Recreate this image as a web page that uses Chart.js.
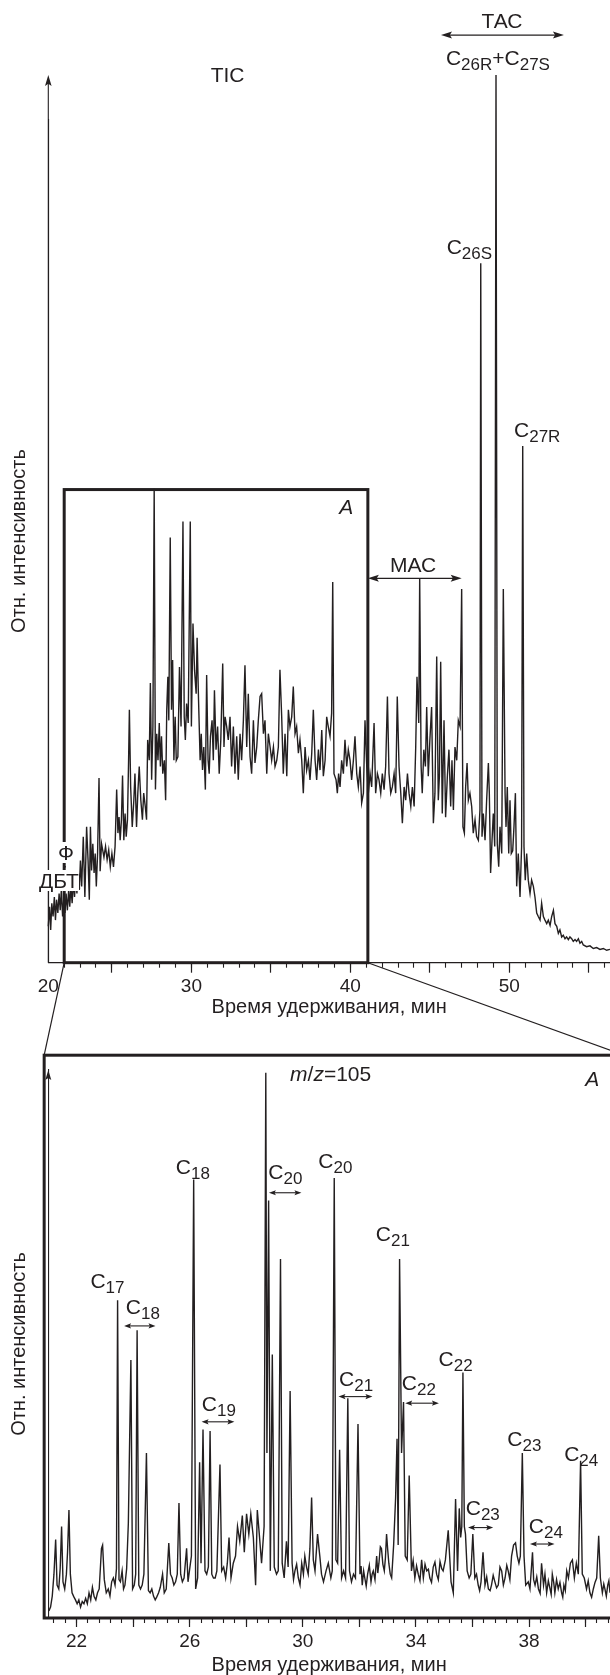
<!DOCTYPE html>
<html><head><meta charset="utf-8">
<script src="https://cdn.jsdelivr.net/npm/chart.js@4.4.1/dist/chart.umd.min.js"></script>
<style>
html,body{margin:0;padding:0;background:#fff;}
body{width:610px;height:1675px;position:relative;overflow:hidden;font-family:'Liberation Sans',Arial,Helvetica,sans-serif;color:#231f20;}
canvas{position:absolute;left:0;}
#cA{top:0;}
#cB{top:955px;}
.lbl{position:absolute;font-size:21px;line-height:21px;white-space:nowrap;}
.lbl sub{font-size:17px;vertical-align:baseline;position:relative;top:5px;}
.lbl.bg{background:#fff;}
</style></head><body>
<canvas id="cA" width="610" height="1060"></canvas>
<canvas id="cB" width="610" height="720"></canvas>
<script>
// ---------------- DATA ----------------
// Total ion current chromatogram: [retention time, min ; relative intensity, %]
const ticTrace = [
[21.00,4.1],[21.08,6.3],[21.15,3.7],[21.22,6.7],[21.30,5.2],[21.38,7.4],[21.45,4.8],[21.52,7.1],[21.60,5.6],[21.68,7.8],
[21.75,5.9],[21.82,8.2],[21.90,5.2],[21.98,7.4],[22.05,5.6],[22.12,7.8],[22.20,5.9],[22.28,8.2],[22.35,6.3],[22.42,8.6],
[22.50,6.7],[22.58,9.3],[22.65,7.4],[22.72,9.7],[22.80,7.8],[22.88,10.4],[22.95,8.2],[23.02,11.5],[23.10,8.6],[23.20,14.2],
[23.30,7.4],[23.41,15.3],[23.50,11.6],[23.58,7.1],[23.65,15.3],[23.72,10.4],[23.80,13.4],[23.88,10.1],[23.95,12.3],[24.02,8.6],
[24.10,12.3],[24.19,20.8],[24.26,10.3],[24.35,13.4],[24.50,11.9],[24.60,13.1],[24.70,11.6],[24.80,12.7],[24.90,10.8],[25.00,12.3],
[25.10,10.8],[25.20,13.1],[25.30,19.5],[25.38,14.6],[25.45,16.4],[25.52,13.8],[25.60,16.1],[25.67,21.1],[25.75,13.8],[25.83,16.8],
[25.90,14.2],[25.98,16.1],[26.05,22.8],[26.10,28.5],[26.18,19.8],[26.28,15.3],[26.38,18.3],[26.45,21.3],[26.55,15.3],[26.63,19.1],
[26.72,22.1],[26.82,18.3],[26.92,16.1],[27.00,19.1],[27.10,17.6],[27.18,16.1],[27.25,25.1],[27.35,22.8],[27.42,31.5],[27.50,20.6],
[27.58,26.6],[27.66,53.4],[27.74,19.5],[27.82,25.8],[27.90,22.8],[27.98,27.0],[28.05,22.1],[28.12,25.5],[28.20,21.3],[28.30,22.8],
[28.38,18.3],[28.45,28.5],[28.52,32.2],[28.58,27.3],[28.67,47.9],[28.75,28.5],[28.82,34.1],[28.90,22.8],[28.98,27.7],[29.05,22.8],
[29.15,23.2],[29.25,33.3],[29.35,26.6],[29.47,49.7],[29.55,27.7],[29.62,25.1],[29.70,29.2],[29.80,27.0],[29.93,49.7],[30.00,26.6],
[30.10,38.2],[30.20,32.9],[30.30,30.3],[30.36,36.6],[30.45,29.6],[30.55,22.8],[30.62,25.8],[30.70,21.7],[30.78,24.3],[30.88,19.5],
[30.96,32.4],[31.05,22.8],[31.12,21.3],[31.20,25.5],[31.30,27.3],[31.38,22.8],[31.45,30.7],[31.55,24.0],[31.65,26.6],[31.75,21.3],
[31.85,25.1],[31.97,33.7],[32.05,24.3],[32.12,27.7],[32.22,26.6],[32.32,25.1],[32.43,27.7],[32.53,22.1],[32.64,26.6],[32.74,21.3],
[32.85,25.5],[32.95,20.6],[33.06,25.8],[33.16,22.8],[33.27,27.3],[33.37,33.5],[33.48,24.3],[33.58,30.3],[33.69,23.2],[33.79,21.3],
[33.90,27.3],[34.00,22.5],[34.11,24.3],[34.21,27.3],[34.32,30.0],[34.42,30.3],[34.53,25.8],[34.63,27.3],[34.74,21.3],[34.84,25.8],
[34.95,24.3],[35.05,22.8],[35.16,24.3],[35.26,22.1],[35.37,22.8],[35.47,24.3],[35.57,33.0],[35.68,27.7],[35.78,21.3],[35.89,25.8],
[36.00,21.0],[36.10,28.5],[36.20,26.6],[36.31,27.7],[36.41,31.1],[36.52,25.8],[36.62,26.6],[36.73,23.6],[36.83,25.1],[36.94,22.8],
[37.04,19.1],[37.15,24.3],[37.25,21.7],[37.36,22.8],[37.46,20.6],[37.57,23.6],[37.67,28.5],[37.78,22.8],[37.88,20.6],[37.99,24.0],
[38.09,21.7],[38.20,26.2],[38.30,21.0],[38.41,22.8],[38.51,27.7],[38.61,26.6],[38.72,25.5],[38.82,28.1],[38.89,42.9],[38.97,21.3],
[39.10,20.6],[39.18,19.1],[39.26,21.3],[39.35,19.8],[39.45,22.8],[39.56,21.3],[39.66,25.1],[39.77,22.1],[39.87,24.0],[39.98,22.8],
[40.08,20.6],[40.19,22.8],[40.29,25.5],[40.40,21.3],[40.50,19.8],[40.61,22.1],[40.71,18.0],[40.82,19.1],[40.92,27.3],[41.03,22.1],
[41.13,19.1],[41.24,21.3],[41.34,19.8],[41.49,27.0],[41.59,19.1],[41.70,21.3],[41.80,20.6],[41.91,19.1],[42.01,21.3],[42.12,19.5],
[42.22,22.1],[42.33,30.0],[42.43,21.3],[42.54,19.1],[42.64,19.8],[42.75,21.3],[42.85,19.1],[42.95,30.0],[43.06,22.1],[43.17,19.1],
[43.27,15.7],[43.38,19.8],[43.48,18.3],[43.59,21.3],[43.69,19.1],[43.80,17.6],[43.90,19.8],[44.01,17.6],[44.11,24.3],[44.19,32.2],
[44.30,27.0],[44.36,43.3],[44.45,22.1],[44.52,19.1],[44.62,24.0],[44.72,22.1],[44.80,28.8],[44.90,21.0],[45.00,25.1],[45.11,28.8],
[45.22,15.7],[45.32,19.1],[45.43,34.5],[45.53,18.3],[45.60,21.0],[45.68,33.9],[45.78,16.8],[45.89,27.3],[45.99,16.4],[46.10,21.0],
[46.20,24.0],[46.31,17.6],[46.39,22.8],[46.48,17.2],[46.58,24.3],[46.69,22.8],[46.79,27.3],[46.90,26.6],[47.00,42.1],[47.08,15.3],
[47.17,14.6],[47.25,19.8],[47.34,22.5],[47.42,18.3],[47.52,19.1],[47.63,17.6],[47.73,14.6],[47.84,16.1],[47.94,14.2],[48.05,13.8],
[48.15,17.2],[48.20,78.8],[48.28,14.2],[48.36,16.8],[48.47,13.8],[48.57,18.3],[48.68,22.5],[48.74,19.1],[48.82,10.1],[48.91,13.8],
[48.99,16.8],[49.08,13.1],[49.16,100],[49.24,13.4],[49.33,10.8],[49.41,15.3],[49.52,12.3],[49.62,42.1],[49.73,19.1],[49.79,15.3],
[49.87,19.8],[49.96,12.3],[50.04,18.3],[50.12,12.3],[50.21,12.6],[50.29,15.3],[50.38,19.1],[50.46,8.6],[50.56,12.3],[50.67,7.4],
[50.77,13.1],[50.84,58.2],[50.92,13.1],[51.00,9.3],[51.09,12.3],[51.19,9.3],[51.30,7.8],[51.40,9.3],[51.51,8.6],[51.61,7.4],
[51.72,5.6],[51.82,5.2],[51.93,4.8],[52.03,6.7],[52.14,5.2],[52.24,4.8],[52.35,4.4],[52.45,4.8],[52.56,4.2],[52.66,5.2],
[52.77,5.9],[52.87,4.4],[52.98,4.1],[53.08,3.3],[53.18,3.7],[53.29,2.9],[53.39,3.1],[53.50,2.7],[53.60,2.9],[53.71,2.6],
[53.81,2.9],[53.92,2.7],[54.02,2.4],[54.13,2.6],[54.23,2.4],[54.34,2.7],[54.44,2.2],[54.55,2.4],[54.65,2.0],[54.86,1.8],
[55.07,1.9],[55.28,1.6],[55.49,1.7],[55.70,1.5],[55.91,1.6],[56.12,1.4],[56.33,1.5]
];

// Mass chromatogram m/z = 105 (fragment A): [retention time, min ; relative intensity, %]
const mzTrace = [
[21.02,1.3],[21.08,2.0],[21.14,4.0],[21.20,8.0],[21.26,14.3],[21.31,6.0],[21.37,5.3],[21.42,9.0],[21.47,16.7],[21.52,6.6],
[21.58,5.3],[21.64,8.0],[21.68,12.0],[21.73,19.7],[21.78,8.0],[21.84,4.6],[21.90,3.9],[21.96,3.3],[22.02,2.6],[22.08,3.3],
[22.14,2.0],[22.20,3.0],[22.26,2.6],[22.32,3.6],[22.38,2.6],[22.44,4.6],[22.50,3.3],[22.56,5.6],[22.62,3.9],[22.68,3.3],
[22.74,4.6],[22.80,5.3],[22.88,12.7],[22.92,13.3],[22.98,7.0],[23.05,4.6],[23.12,5.3],[23.18,4.0],[23.24,6.6],[23.30,7.3],
[23.36,6.0],[23.41,9.0],[23.45,58.0],[23.50,7.0],[23.55,6.6],[23.61,8.6],[23.66,5.3],[23.71,6.0],[23.77,9.0],[23.83,17.3],
[23.92,47.1],[23.98,5.3],[24.04,6.0],[24.09,8.0],[24.14,52.5],[24.20,6.0],[24.26,5.3],[24.32,6.0],[24.38,8.0],[24.47,30.1],
[24.54,5.0],[24.60,4.6],[24.66,5.3],[24.72,4.0],[24.78,3.3],[24.84,3.9],[24.90,4.6],[24.96,5.6],[25.04,8.0],[25.10,4.6],
[25.17,5.3],[25.26,13.7],[25.32,8.0],[25.38,7.3],[25.44,6.0],[25.50,6.6],[25.56,8.0],[25.62,21.0],[25.68,8.0],[25.74,6.6],
[25.80,7.3],[25.89,12.7],[25.94,6.6],[25.99,8.6],[26.06,11.3],[26.14,80.0],[26.21,5.3],[26.28,7.3],[26.35,28.4],[26.40,10.0],
[26.47,34.4],[26.54,8.6],[26.60,8.0],[26.66,9.3],[26.72,34.1],[26.78,8.0],[26.84,7.3],[26.90,7.3],[26.96,8.6],[27.07,28.0],
[27.13,8.6],[27.20,9.3],[27.27,7.3],[27.33,10.0],[27.39,14.7],[27.46,7.3],[27.54,10.0],[27.62,11.3],[27.69,16.7],[27.77,14.0],
[27.86,18.7],[27.93,12.0],[28.01,19.0],[28.09,15.3],[28.16,19.0],[28.25,14.7],[28.33,6.0],[28.39,19.7],[28.46,15.3],[28.54,10.0],
[28.63,16.7],[28.69,99.5],[28.73,30.1],[28.79,76.2],[28.85,8.6],[28.92,48.1],[28.99,9.3],[29.07,8.0],[29.13,8.6],[29.21,65.5],
[29.27,10.0],[29.34,7.3],[29.42,14.0],[29.48,9.3],[29.55,41.4],[29.62,10.0],[29.67,7.0],[29.72,8.6],[29.78,9.8],[29.84,7.3],
[29.90,6.0],[29.96,10.0],[30.02,8.0],[30.07,11.3],[30.13,9.3],[30.19,8.0],[30.25,12.7],[30.31,22.0],[30.37,10.6],[30.43,8.6],
[30.52,15.3],[30.60,11.3],[30.66,8.0],[30.73,6.6],[30.82,8.6],[30.90,10.0],[30.99,7.3],[31.04,8.6],[31.11,80.3],[31.17,10.6],
[31.23,10.0],[31.30,30.7],[31.37,7.3],[31.44,8.6],[31.51,7.3],[31.59,40.1],[31.65,8.6],[31.72,6.6],[31.79,8.0],[31.86,7.3],
[31.95,35.4],[32.02,8.0],[32.06,9.5],[32.10,6.0],[32.15,8.6],[32.19,7.3],[32.24,5.8],[32.29,8.0],[32.35,9.6],[32.41,6.6],
[32.45,8.0],[32.49,8.6],[32.55,7.0],[32.61,11.3],[32.65,8.2],[32.69,10.0],[32.74,13.0],[32.78,12.7],[32.83,9.8],[32.88,8.6],
[32.92,11.0],[32.96,15.3],[33.00,12.5],[33.04,10.0],[33.09,8.0],[33.14,7.3],[33.21,13.3],[33.28,22.0],[33.33,32.7],[33.37,13.3],
[33.42,65.5],[33.49,30.1],[33.56,39.4],[33.62,11.3],[33.69,10.6],[33.76,26.0],[33.84,8.6],[33.90,10.5],[33.96,7.3],[34.02,9.5],
[34.08,8.0],[34.14,6.8],[34.20,10.6],[34.26,7.3],[34.32,9.8],[34.38,8.6],[34.44,8.9],[34.49,7.3],[34.55,6.5],[34.61,9.3],
[34.67,10.2],[34.73,8.0],[34.79,7.0],[34.85,10.3],[34.91,9.0],[34.96,8.6],[35.04,10.6],[35.14,16.0],[35.24,6.6],[35.32,4.6],
[35.40,21.7],[35.47,8.6],[35.53,20.0],[35.58,14.7],[35.62,16.7],[35.66,44.8],[35.71,16.7],[35.75,15.3],[35.81,8.6],[35.88,7.3],
[35.94,8.0],[36.01,15.3],[36.08,7.3],[36.14,8.0],[36.20,6.0],[36.25,5.0],[36.30,6.6],[36.37,12.0],[36.44,6.0],[36.50,7.5],
[36.56,5.3],[36.62,5.0],[36.67,6.0],[36.73,7.8],[36.79,6.6],[36.85,5.5],[36.91,6.0],[36.97,9.3],[37.03,8.6],[37.09,6.0],
[37.15,7.3],[37.21,9.6],[37.26,8.6],[37.32,7.0],[37.38,11.3],[37.45,13.3],[37.52,13.7],[37.58,11.3],[37.64,10.0],[37.69,11.3],
[37.76,30.1],[37.82,11.3],[37.88,6.0],[37.97,6.6],[38.03,5.3],[38.12,12.0],[38.16,7.0],[38.21,6.0],[38.27,7.5],[38.33,5.3],
[38.39,4.5],[38.44,10.0],[38.51,6.0],[38.56,8.0],[38.62,4.6],[38.68,6.8],[38.74,5.3],[38.78,4.3],[38.82,8.0],[38.87,6.5],
[38.91,4.6],[38.97,7.0],[39.03,5.3],[39.09,6.5],[39.15,4.6],[39.19,3.8],[39.23,6.0],[39.28,5.0],[39.33,8.6],[39.39,7.3],
[39.46,10.0],[39.53,10.6],[39.60,7.3],[39.67,10.0],[39.74,8.0],[39.82,28.7],[39.88,8.0],[39.95,7.3],[40.03,5.3],[40.09,6.8],
[40.15,4.6],[40.21,3.8],[40.27,5.3],[40.33,6.5],[40.39,7.3],[40.46,15.0],[40.52,7.3],[40.59,4.6],[40.64,6.2],[40.68,5.3],
[40.73,4.0],[40.78,6.0],[40.82,6.8],[40.86,4.6]
];

// Axis ticks
const ticMajorTicks = [21,25,30,35,40,45,50,55];
const ticMinorTicks = [22,23,24,25,26,27,28,29,30,31,32,33,34,35,36,37,38,39,40,41,42,43,44,45,46,47,48,49,50,51,52,53,54,55,56];
const ticTickLabels = {21:'20',30:'30',40:'40',50:'50'};
const mzMajorTicks = [22,24,26,28,30,32,34,36,38,40];
const mzMinorTicks = [21.2,21.6,22.0,22.4,22.8,23.2,23.6,24.0,24.4,24.8,25.2,25.6,26.0,26.4,26.8,27.2,27.6,28.0,28.4,28.8,
  29.2,29.6,30.0,30.4,30.8,31.2,31.6,32.0,32.4,32.8,33.2,33.6,34.0,34.4,34.8,35.2,35.6,36.0,36.4,36.8,37.2,37.6,38.0,38.4,38.8,
  39.2,39.6,40.0,40.4,40.8];
const mzTickLabels = {22:'22',26:'26',30:'30',34:'34',38:'38'};

// Annotations (label anchor: time = centre, intensity = baseline)
const ticLabels = [
  {html:'TIC', t:32.28, v:99.2},
  {html:'ТАС', t:49.54, v:105.3},
  {html:'C<sub>26R</sub>+C<sub>27S</sub>', t:49.28, v:101.1},
  {html:'C<sub>26S</sub>', t:47.47, v:79.9},
  {html:'C<sub>27R</sub>', t:51.74, v:59.3},
  {html:'МАС', t:43.94, v:44.0},
  {html:'<i>A</i>', t:39.74, v:50.6},
  {html:'Ф', t:22.11, v:11.6, bg:true},
  {html:'ДБТ', t:21.67, v:8.4, bg:true}
];
const ticSpans = [ {from:45.7, to:53.43, v:104.5}, {from:41.1, to:47.0, v:43.3} ];
const ticBoxA = {from:22.0, to:41.1, top:53.3};
const ticLeaders = [ {t:22.05, v1:10.9, v2:9.8}, {t:22.95, v1:9.8, v2:8.0} ];

const mzLabels = [
  {html:'<i>m</i>/<i>z</i>=105', t:30.98, v:98.0},
  {html:'<i>A</i>', t:40.23, v:97.1},
  {html:'C<sub>17</sub>', t:23.09, v:60.2},
  {html:'C<sub>18</sub>', t:24.34, v:55.6},
  {html:'C<sub>18</sub>', t:26.11, v:81.0},
  {html:'C<sub>19</sub>', t:27.03, v:37.8},
  {html:'C<sub>20</sub>', t:29.38, v:80.1},
  {html:'C<sub>20</sub>', t:31.15, v:82.2},
  {html:'C<sub>21</sub>', t:33.18, v:68.8},
  {html:'C<sub>21</sub>', t:31.88, v:42.3},
  {html:'C<sub>22</sub>', t:34.10, v:41.7},
  {html:'C<sub>22</sub>', t:35.40, v:46.0},
  {html:'C<sub>23</sub>', t:36.36, v:18.9},
  {html:'C<sub>23</sub>', t:37.83, v:31.4},
  {html:'C<sub>24</sub>', t:38.59, v:15.6},
  {html:'C<sub>24</sub>', t:39.84, v:28.6}
];
const mzSpans = [
  {from:23.68,to:24.79,v:53.3},{from:26.42,to:27.58,v:35.8},{from:28.80,to:29.95,v:77.6},
  {from:31.26,to:32.46,v:40.4},{from:33.62,to:34.81,v:39.2},{from:35.84,to:36.73,v:16.5},{from:38.03,to:38.90,v:13.5}
];
const mzFrame = {from:20.854, to:41.35, top:102.7};

// ---------------- RENDER ----------------
const INK = '#231f20';
const FONT = "'Liberation Sans', Arial, Helvetica, sans-serif";
Chart.defaults.font.family = FONT;
Chart.defaults.color = INK;

function seg(ctx,x1,y1,x2,y2,w){ctx.lineWidth=w;ctx.beginPath();ctx.moveTo(x1,y1);ctx.lineTo(x2,y2);ctx.stroke();}
function head(ctx,x,y,dir,len,hw){
  ctx.beginPath();
  if(dir==='up'){ctx.moveTo(x,y);ctx.lineTo(x-hw,y+len);ctx.lineTo(x,y+len*0.8);ctx.lineTo(x+hw,y+len);}
  else if(dir==='left'){ctx.moveTo(x,y);ctx.lineTo(x+len,y-hw);ctx.lineTo(x+len*0.8,y);ctx.lineTo(x+len,y+hw);}
  else {ctx.moveTo(x,y);ctx.lineTo(x-len,y-hw);ctx.lineTo(x-len*0.8,y);ctx.lineTo(x-len,y+hw);}
  ctx.closePath();ctx.fill();
}
function dbl(ctx,x1,x2,y,len,hw,w){seg(ctx,x1+len*0.7,y,x2-len*0.7,y,w);head(ctx,x1,y,'left',len,hw);head(ctx,x2,y,'right',len,hw);}

function xAxes(min,max,major,minor,labels,majorLen,pad,height,titlePad){
  return {
    x:{type:'linear',position:'bottom',min:min,max:max,weight:1,
      afterBuildTicks:s=>{s.ticks=major.map(v=>({value:v}));},
      afterFit:s=>{s.height=height;},
      grid:{display:true,drawOnChartArea:false,drawTicks:true,tickLength:majorLen,tickWidth:1.2,
        tickColor:c=>(c.tick&&c.tick.value===21)?'rgba(0,0,0,0)':INK},
      border:{display:true,color:INK,width:1.3},
      ticks:{autoSkip:false,maxRotation:0,minRotation:0,padding:pad,font:{size:19},color:INK,
        callback:v=>labels[v]||''},
      title:{display:true,text:'Время удерживания, мин',color:INK,font:{size:20,lineHeight:1},padding:{top:0,bottom:titlePad}}
    },
    xm:{type:'linear',position:'bottom',min:min,max:max,weight:0,
      afterBuildTicks:s=>{s.ticks=minor.map(v=>({value:v}));},
      afterFit:s=>{s.height=0;},
      grid:{display:true,drawOnChartArea:false,drawTicks:true,tickLength:5,tickWidth:1.1,tickColor:INK},
      border:{display:false},ticks:{display:false}
    }
  };
}
function yAxis(max){
  return {type:'linear',position:'left',min:0,max:max,
    afterFit:s=>{s.width=48.3;},
    grid:{display:false},ticks:{display:false},
    border:{display:true,color:INK,width:1.1},
    title:{display:true,text:'Отн. интенсивность',color:INK,font:{size:20,lineHeight:1},padding:{top:9.5,bottom:0}}
  };
}

const ticDecor = {id:'ticDecor', afterDraw(chart){
  const {ctx, scales:{x,y}, chartArea:a} = chart;
  ctx.save(); ctx.strokeStyle=INK; ctx.fillStyle=INK;
  const tip = y.getPixelForValue(100);
  seg(ctx,a.left,a.bottom,a.left,tip+6,1.1); head(ctx,a.left,tip,'up',11,3.3);
  ctx.lineWidth=3;
  const bl=x.getPixelForValue(ticBoxA.from), br=x.getPixelForValue(ticBoxA.to), bt=y.getPixelForValue(ticBoxA.top), bb=y.getPixelForValue(0);
  ctx.strokeRect(bl,bt,br-bl,bb-bt);
  ticSpans.forEach(s=>dbl(ctx,x.getPixelForValue(s.from),x.getPixelForValue(s.to),y.getPixelForValue(s.v),11,3.5,1.2));
  ctx.setLineDash([1.5,2.5]);
  ticLeaders.forEach(l=>seg(ctx,x.getPixelForValue(l.t),y.getPixelForValue(l.v1),x.getPixelForValue(l.t),y.getPixelForValue(l.v2),1.6));
  ctx.restore();
}};

const chartA = new Chart(document.getElementById('cA'), {
  type:'line',
  data:{datasets:[{data:ticTrace.map(p=>({x:p[0],y:p[1]})),xAxisID:'x',yAxisID:'y',borderColor:INK,borderWidth:1.4,pointRadius:0,tension:0,clip:false}]},
  options:{responsive:false,animation:false,events:[],
    layout:{padding:{top:119.4,left:0,right:0,bottom:0}},
    plugins:{legend:{display:false},tooltip:{enabled:false}},
    scales:Object.assign(xAxes(21,56.33,ticMajorTicks,ticMinorTicks,ticTickLabels,10,3,97.3,43),{y:yAxis(95)})
  },
  plugins:[ticDecor]
});

const B_TOP = 955;
const mzDecor = {id:'mzDecor', afterDraw(chart){
  const {ctx, scales:{x,y}, chartArea:a} = chart;
  ctx.save(); ctx.strokeStyle=INK; ctx.fillStyle=INK;
  const tip = y.getPixelForValue(100);
  head(ctx,a.left,tip,'up',10,3);
  const fl=x.getPixelForValue(mzFrame.from), fr=x.getPixelForValue(mzFrame.to), ft=y.getPixelForValue(mzFrame.top), fb=y.getPixelForValue(0);
  ctx.lineWidth=3; ctx.strokeRect(fl,ft,fr-fl,fb-ft);
  mzSpans.forEach(s=>dbl(ctx,x.getPixelForValue(s.from),x.getPixelForValue(s.to),y.getPixelForValue(s.v),7,2.6,1.1));
  // zoom connectors from box A of the TIC panel
  const ax=chartA.scales.x, ay=chartA.scales.y;
  const yA=ay.getPixelForValue(0)-B_TOP;
  seg(ctx,ax.getPixelForValue(ticBoxA.from),yA,fl,ft,1.2);
  seg(ctx,ax.getPixelForValue(ticBoxA.to),yA,fr,ft,1.2);
  ctx.restore();
}};

const chartB = new Chart(document.getElementById('cB'), {
  type:'line',
  data:{datasets:[{data:mzTrace.map(p=>({x:p[0],y:p[1]})),xAxisID:'x',yAxisID:'y',borderColor:INK,borderWidth:1.4,pointRadius:0,tension:0,clip:false}]},
  options:{responsive:false,animation:false,events:[],
    layout:{padding:{top:115,left:0,right:0,bottom:0}},
    plugins:{legend:{display:false},tooltip:{enabled:false}},
    scales:Object.assign(xAxes(21,40.86,mzMajorTicks,mzMinorTicks,mzTickLabels,9,3.3,57,0),{y:yAxis(100)})
  },
  plugins:[mzDecor]
});

function placeLabels(chart, offsetTop, list){
  const FS=21, BASE=(FS-1.117*FS)/2+0.905*FS;
  list.forEach(L=>{
    const d=document.createElement('div'); d.className='lbl'+(L.bg?' bg':''); d.innerHTML=L.html;
    document.body.appendChild(d);
    const px=chart.scales.x.getPixelForValue(L.t), py=chart.scales.y.getPixelForValue(L.v)+offsetTop;
    d.style.left=(px-d.offsetWidth/2)+'px'; d.style.top=(py-BASE)+'px';
  });
}
placeLabels(chartA,0,ticLabels);
placeLabels(chartB,B_TOP,mzLabels);
</script>
</body></html>
